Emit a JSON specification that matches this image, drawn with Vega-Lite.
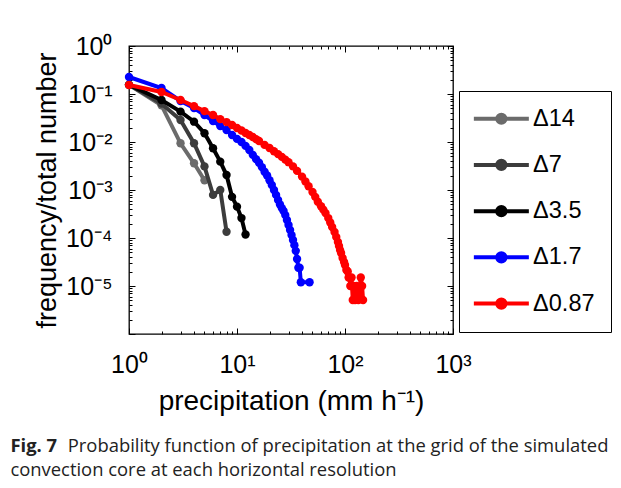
{
  "$schema": "https://vega.github.io/schema/vega-lite/v6.json",
  "width": 324,
  "height": 288,
  "autosize": {"type": "none"},
  "padding": {"left": 129, "top": 46, "right": 168, "bottom": 154},
  "background": "white",
  "config": {
    "view": {"stroke": "black", "strokeWidth": 1.3},
    "font": "Liberation Sans"
  },
  "title": {
    "text": "Fig. 7",
    "subtitle": ["\u200b\u00a0\u00a0\u00a0\u00a0\u00a0\u00a0\u00a0\u00a0\u00a0\u00a0\u00a0\u00a0Probability function of precipitation at the grid of the simulated", "convection core at each horizontal resolution"],
    "orient": "bottom",
    "anchor": "start",
    "frame": "bounds",
    "font": "Open Sans",
    "fontSize": 18.4,
    "fontWeight": "bold",
    "color": "#222222",
    "lineHeight": 22,
    "subtitleFont": "Open Sans",
    "subtitleFontSize": 18.4,
    "subtitleFontWeight": "normal",
    "subtitleColor": "#222222",
    "subtitleLineHeight": 24,
    "subtitlePadding": -18,
    "offset": 22,
    "dx": -23
  },
  "data": {"values": [
    {"series": "Δ14", "precip": 1, "freq": 0.155},
    {"series": "Δ14", "precip": 2, "freq": 0.058},
    {"series": "Δ14", "precip": 3, "freq": 0.0094},
    {"series": "Δ14", "precip": 4, "freq": 0.0036},
    {"series": "Δ14", "precip": 5, "freq": 0.0016},
    {"series": "Δ7", "precip": 1, "freq": 0.155},
    {"series": "Δ7", "precip": 2, "freq": 0.063},
    {"series": "Δ7", "precip": 3, "freq": 0.0288},
    {"series": "Δ7", "precip": 4, "freq": 0.0094},
    {"series": "Δ7", "precip": 5, "freq": 0.0031},
    {"series": "Δ7", "precip": 6, "freq": 0.00079},
    {"series": "Δ7", "precip": 7, "freq": 0.001},
    {"series": "Δ7", "precip": 8, "freq": 0.000135},
    {"series": "Δ3.5", "precip": 1, "freq": 0.155},
    {"series": "Δ3.5", "precip": 2, "freq": 0.075},
    {"series": "Δ3.5", "precip": 3, "freq": 0.043},
    {"series": "Δ3.5", "precip": 4, "freq": 0.0265},
    {"series": "Δ3.5", "precip": 5, "freq": 0.0152},
    {"series": "Δ3.5", "precip": 6, "freq": 0.0074},
    {"series": "Δ3.5", "precip": 7, "freq": 0.0039},
    {"series": "Δ3.5", "precip": 8, "freq": 0.00205},
    {"series": "Δ3.5", "precip": 9, "freq": 0.00072},
    {"series": "Δ3.5", "precip": 10, "freq": 0.00045},
    {"series": "Δ3.5", "precip": 11, "freq": 0.00026},
    {"series": "Δ3.5", "precip": 12, "freq": 0.000118},
    {"series": "Δ1.7", "precip": 1, "freq": 0.226},
    {"series": "Δ1.7", "precip": 2, "freq": 0.133},
    {"series": "Δ1.7", "precip": 3, "freq": 0.0715},
    {"series": "Δ1.7", "precip": 4, "freq": 0.051},
    {"series": "Δ1.7", "precip": 5, "freq": 0.0365},
    {"series": "Δ1.7", "precip": 6, "freq": 0.0274},
    {"series": "Δ1.7", "precip": 7, "freq": 0.0215},
    {"series": "Δ1.7", "precip": 8, "freq": 0.0178},
    {"series": "Δ1.7", "precip": 9, "freq": 0.014},
    {"series": "Δ1.7", "precip": 10, "freq": 0.0116},
    {"series": "Δ1.7", "precip": 11, "freq": 0.01},
    {"series": "Δ1.7", "precip": 12, "freq": 0.0083},
    {"series": "Δ1.7", "precip": 13, "freq": 0.0068},
    {"series": "Δ1.7", "precip": 14, "freq": 0.0054},
    {"series": "Δ1.7", "precip": 15, "freq": 0.0044},
    {"series": "Δ1.7", "precip": 16, "freq": 0.0037},
    {"series": "Δ1.7", "precip": 17, "freq": 0.003},
    {"series": "Δ1.7", "precip": 18, "freq": 0.0024},
    {"series": "Δ1.7", "precip": 19, "freq": 0.002},
    {"series": "Δ1.7", "precip": 20, "freq": 0.0016},
    {"series": "Δ1.7", "precip": 21, "freq": 0.00127},
    {"series": "Δ1.7", "precip": 22, "freq": 0.001},
    {"series": "Δ1.7", "precip": 23, "freq": 0.00079},
    {"series": "Δ1.7", "precip": 24, "freq": 0.00062},
    {"series": "Δ1.7", "precip": 25, "freq": 0.0005},
    {"series": "Δ1.7", "precip": 26, "freq": 0.00042},
    {"series": "Δ1.7", "precip": 27, "freq": 0.000365},
    {"series": "Δ1.7", "precip": 28, "freq": 0.0003},
    {"series": "Δ1.7", "precip": 29, "freq": 0.000237},
    {"series": "Δ1.7", "precip": 30, "freq": 0.000187},
    {"series": "Δ1.7", "precip": 31, "freq": 0.000147},
    {"series": "Δ1.7", "precip": 32, "freq": 0.000115},
    {"series": "Δ1.7", "precip": 33, "freq": 0.000091},
    {"series": "Δ1.7", "precip": 34, "freq": 0.000071},
    {"series": "Δ1.7", "precip": 35, "freq": 0.000054},
    {"series": "Δ1.7", "precip": 36, "freq": 0.0000365},
    {"series": "Δ1.7", "precip": 37, "freq": 0.000024},
    {"series": "Δ1.7", "precip": 38, "freq": 0.000024},
    {"series": "Δ1.7", "precip": 39, "freq": 0.000012},
    {"series": "Δ1.7", "precip": 47, "freq": 0.000012},
    {"series": "Δ0.87", "precip": 1, "freq": 0.154},
    {"series": "Δ0.87", "precip": 2, "freq": 0.11},
    {"series": "Δ0.87", "precip": 3, "freq": 0.075},
    {"series": "Δ0.87", "precip": 4, "freq": 0.056},
    {"series": "Δ0.87", "precip": 5, "freq": 0.044},
    {"series": "Δ0.87", "precip": 6, "freq": 0.0365},
    {"series": "Δ0.87", "precip": 7, "freq": 0.03},
    {"series": "Δ0.87", "precip": 8, "freq": 0.026},
    {"series": "Δ0.87", "precip": 9, "freq": 0.0226},
    {"series": "Δ0.87", "precip": 10, "freq": 0.0196},
    {"series": "Δ0.87", "precip": 11, "freq": 0.0174},
    {"series": "Δ0.87", "precip": 12, "freq": 0.0154},
    {"series": "Δ0.87", "precip": 13, "freq": 0.014},
    {"series": "Δ0.87", "precip": 14, "freq": 0.0127},
    {"series": "Δ0.87", "precip": 15, "freq": 0.0115},
    {"series": "Δ0.87", "precip": 16, "freq": 0.0105},
    {"series": "Δ0.87", "precip": 18, "freq": 0.0087},
    {"series": "Δ0.87", "precip": 20, "freq": 0.0075},
    {"series": "Δ0.87", "precip": 22, "freq": 0.0064},
    {"series": "Δ0.87", "precip": 24, "freq": 0.0056},
    {"series": "Δ0.87", "precip": 26, "freq": 0.0049},
    {"series": "Δ0.87", "precip": 28, "freq": 0.0043},
    {"series": "Δ0.87", "precip": 30, "freq": 0.0038},
    {"series": "Δ0.87", "precip": 33, "freq": 0.0031},
    {"series": "Δ0.87", "precip": 36, "freq": 0.0025},
    {"series": "Δ0.87", "precip": 40, "freq": 0.0019},
    {"series": "Δ0.87", "precip": 43, "freq": 0.0015},
    {"series": "Δ0.87", "precip": 46, "freq": 0.0012},
    {"series": "Δ0.87", "precip": 50, "freq": 0.00091},
    {"series": "Δ0.87", "precip": 53, "freq": 0.00072},
    {"series": "Δ0.87", "precip": 56, "freq": 0.00057},
    {"series": "Δ0.87", "precip": 60, "freq": 0.00046},
    {"series": "Δ0.87", "precip": 63, "freq": 0.00039},
    {"series": "Δ0.87", "precip": 66, "freq": 0.00033},
    {"series": "Δ0.87", "precip": 70, "freq": 0.00026},
    {"series": "Δ0.87", "precip": 73, "freq": 0.00021},
    {"series": "Δ0.87", "precip": 76, "freq": 0.00017},
    {"series": "Δ0.87", "precip": 80, "freq": 0.000133},
    {"series": "Δ0.87", "precip": 83, "freq": 0.000105},
    {"series": "Δ0.87", "precip": 86, "freq": 0.0000825},
    {"series": "Δ0.87", "precip": 88, "freq": 0.000068},
    {"series": "Δ0.87", "precip": 90, "freq": 0.000056},
    {"series": "Δ0.87", "precip": 92, "freq": 0.0000487},
    {"series": "Δ0.87", "precip": 95, "freq": 0.0000383},
    {"series": "Δ0.87", "precip": 98, "freq": 0.0000316},
    {"series": "Δ0.87", "precip": 100, "freq": 0.0000274},
    {"series": "Δ0.87", "precip": 103, "freq": 0.0000215},
    {"series": "Δ0.87", "precip": 106, "freq": 0.00002},
    {"series": "Δ0.87", "precip": 108, "freq": 0.000015},
    {"series": "Δ0.87", "precip": 110, "freq": 0.000015},
    {"series": "Δ0.87", "precip": 112, "freq": 0.00001},
    {"series": "Δ0.87", "precip": 115, "freq": 0.000015},
    {"series": "Δ0.87", "precip": 118, "freq": 0.0000051},
    {"series": "Δ0.87", "precip": 120, "freq": 0.00001},
    {"series": "Δ0.87", "precip": 124, "freq": 0.0000051},
    {"series": "Δ0.87", "precip": 128, "freq": 0.00001},
    {"series": "Δ0.87", "precip": 133, "freq": 0.0000051},
    {"series": "Δ0.87", "precip": 140, "freq": 0.000015},
    {"series": "Δ0.87", "precip": 144, "freq": 0.00001},
    {"series": "Δ0.87", "precip": 147, "freq": 0.0000051}
  ]},
  "encoding": {
    "x": {"field": "precip", "type": "quantitative", "scale": {"type": "log", "domain": [1, 1000]}, "axis": null},
    "y": {"field": "freq", "type": "quantitative", "scale": {"type": "log", "domain": [0.000001, 1]}, "axis": null},
    "color": {
      "field": "series", "type": "nominal",
      "scale": {"domain": ["Δ14", "Δ7", "Δ3.5", "Δ1.7", "Δ0.87"], "range": ["#6b6b6b", "#3c3c3c", "#000000", "#0000ff", "#ff0000"]},
      "legend": {
        "orient": "none", "legendX": 330, "legendY": 45,
        "title": null,
        "strokeColor": "black", "fillColor": "white",
        "padding": 16,
        "labelFont": "Liberation Sans", "labelFontSize": 23.5, "labelColor": "black", "labelOffset": 20, "labelLimit": 300,
        "symbolType": "M-4,0H4M0.6,0A0.6,0.6,0,1,1,-0.6,0A0.6,0.6,0,1,1,0.6,0Z",
        "symbolSize": 189, "symbolStrokeWidth": 4, "symbolOpacity": 1, "symbolOffset": 14.6,
        "rowPadding": 21.2,
        "encode": {"symbols": {"update": {"fill": {"scale": "color", "field": "value"}, "stroke": {"scale": "color", "field": "value"}}}}
      }
    }
  },
  "resolve": {"axis": {"x": "independent", "y": "independent"}},
  "layer": [
    {
      "transform": [{"filter": "datum.series == 'Δ14'"}],
      "mark": {"type": "line", "strokeWidth": 4, "point": {"filled": true, "size": 70}},
      "encoding": {
        "x": {
          "field": "precip", "type": "quantitative",
          "scale": {"type": "log", "domain": [1, 1000]},
          "axis": {
            "orient": "bottom",
            "values": [1,2,3,4,5,6,7,8,9,10,20,30,40,50,60,70,80,90,100,200,300,400,500,600,700,800,900,1000],
            "labelExpr": "datum.value == 1 ? '10⁰' : datum.value == 10 ? '10¹' : datum.value == 100 ? '10²' : datum.value == 1000 ? '10³' : ''",
            "labelFontSize": 25, "labelColor": "black", "labelPadding": 24,
            "labelOverlap": false, "labelFlush": false, "labelBound": false,
            "tickSize": {"condition": {"test": "indexof([1,10,100,1000], datum.value) >= 0", "value": -6}, "value": -3},
            "tickColor": "black", "tickWidth": 1,
            "domain": false, "grid": false,
            "title": "precipitation (mm h⁻¹)", "titleFontSize": 28, "titleFontWeight": "normal",
            "titleColor": "black", "titlePadding": 7
          }
        },
        "y": {
          "field": "freq", "type": "quantitative",
          "scale": {"type": "log", "domain": [0.000001, 1]},
          "axis": {
            "orient": "left",
            "values": [0.000001,0.000002,0.000003,0.000004,0.000005,0.000006,0.000007,0.000008,0.000009,
                       0.00001,0.00002,0.00003,0.00004,0.00005,0.00006,0.00007,0.00008,0.00009,
                       0.0001,0.0002,0.0003,0.0004,0.0005,0.0006,0.0007,0.0008,0.0009,
                       0.001,0.002,0.003,0.004,0.005,0.006,0.007,0.008,0.009,
                       0.01,0.02,0.03,0.04,0.05,0.06,0.07,0.08,0.09,
                       0.1,0.2,0.3,0.4,0.5,0.6,0.7,0.8,0.9,1],
            "labelExpr": "datum.value == 1 ? '10⁰' : datum.value == 0.1 ? '10⁻¹' : datum.value == 0.01 ? '10⁻²' : datum.value == 0.001 ? '10⁻³' : datum.value == 0.0001 ? '10⁻⁴' : datum.value == 0.00001 ? '10⁻⁵' : ''",
            "labelFontSize": 25, "labelColor": "black", "labelPadding": 23,
            "labelOverlap": false, "labelFlush": false, "labelBound": false,
            "tickSize": {"condition": {"test": "indexof([1,0.1,0.01,0.001,0.0001,0.00001,0.000001], datum.value) >= 0", "value": -6}, "value": -3},
            "tickColor": "black", "tickWidth": 1,
            "domain": false, "grid": false,
            "title": "frequency/total number", "titleFontSize": 27, "titleFontWeight": "normal",
            "titleColor": "black", "titlePadding": 4
          }
        }
      }
    },
    {"transform": [{"filter": "datum.series == 'Δ7'"}], "mark": {"type": "line", "strokeWidth": 4, "point": {"filled": true, "size": 70}}},
    {"transform": [{"filter": "datum.series == 'Δ3.5'"}], "mark": {"type": "line", "strokeWidth": 4, "point": {"filled": true, "size": 70}}},
    {"transform": [{"filter": "datum.series == 'Δ1.7'"}], "mark": {"type": "line", "strokeWidth": 4, "point": {"filled": true, "size": 70}}},
    {"transform": [{"filter": "datum.series == 'Δ0.87'"}], "mark": {"type": "line", "strokeWidth": 4, "point": {"filled": true, "size": 70}}},
    {
      "mark": {"type": "point", "opacity": 0},
      "encoding": {
        "x": {
          "field": "precip", "type": "quantitative",
          "scale": {"type": "log", "domain": [1, 1000]},
          "axis": {
            "orient": "top",
            "values": [1,2,3,4,5,6,7,8,9,10,20,30,40,50,60,70,80,90,100,200,300,400,500,600,700,800,900,1000],
            "labels": false, "title": null, "domain": false, "grid": false,
            "tickSize": {"condition": {"test": "indexof([1,10,100,1000], datum.value) >= 0", "value": -6}, "value": -3},
            "tickColor": "black", "tickWidth": 1
          }
        },
        "y": {
          "field": "freq", "type": "quantitative",
          "scale": {"type": "log", "domain": [0.000001, 1]},
          "axis": {
            "orient": "right",
            "values": [0.000001,0.000002,0.000003,0.000004,0.000005,0.000006,0.000007,0.000008,0.000009,
                       0.00001,0.00002,0.00003,0.00004,0.00005,0.00006,0.00007,0.00008,0.00009,
                       0.0001,0.0002,0.0003,0.0004,0.0005,0.0006,0.0007,0.0008,0.0009,
                       0.001,0.002,0.003,0.004,0.005,0.006,0.007,0.008,0.009,
                       0.01,0.02,0.03,0.04,0.05,0.06,0.07,0.08,0.09,
                       0.1,0.2,0.3,0.4,0.5,0.6,0.7,0.8,0.9,1],
            "labels": false, "title": null, "domain": false, "grid": false,
            "tickSize": {"condition": {"test": "indexof([1,0.1,0.01,0.001,0.0001,0.00001,0.000001], datum.value) >= 0", "value": -6}, "value": -3},
            "tickColor": "black", "tickWidth": 1
          }
        }
      }
    }
  ]
}
